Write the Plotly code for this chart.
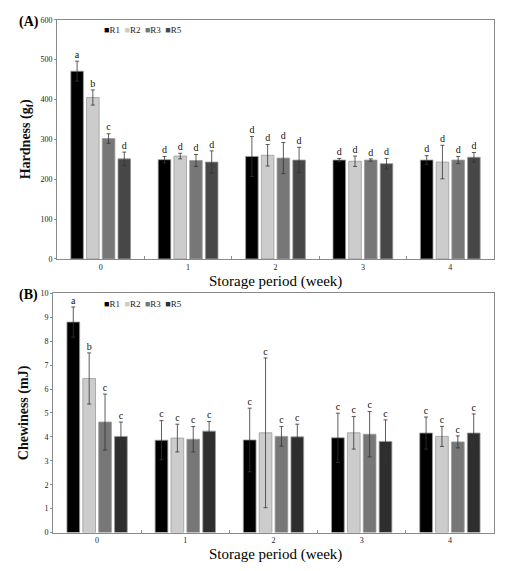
import plotly.graph_objects as go

weeks = [0, 1, 2, 3, 4]
week_labels = ["0", "1", "2", "3", "4"]
series = ["R1", "R2", "R3", "R5"]
colors_a = ["#000000", "#cccccc", "#777777", "#474747"]
colors_b = ["#000000", "#cccccc", "#777777", "#2e2e2e"]

# Hardness (gf)
hard_R1 = [471, 249, 257, 248, 248]
hard_R2 = [405, 258, 260, 245, 243]
hard_R3 = [302, 247, 253, 248, 248]
hard_R5 = [251, 243, 248, 239, 255]
hard_R1_err = [25, 8, 50, 4, 11]
hard_R2_err = [19, 7, 27, 13, 42]
hard_R3_err = [12, 15, 39, 3, 9]
hard_R5_err = [17, 28, 32, 13, 12]
hard_R1_lab = ["a", "d", "d", "d", "d"]
hard_R2_lab = ["b", "d", "d", "d", "d"]
hard_R3_lab = ["c", "d", "d", "d", "d"]
hard_R5_lab = ["d", "d", "d", "d", "d"]

# Chewiness (mJ)
chew_R1 = [8.80, 3.86, 3.87, 3.96, 4.16]
chew_R2 = [6.44, 3.95, 4.17, 4.17, 4.02]
chew_R3 = [4.62, 3.90, 4.02, 4.11, 3.79]
chew_R5 = [4.02, 4.24, 4.00, 3.81, 4.16]
chew_R1_err = [0.63, 0.82, 1.33, 1.03, 0.67]
chew_R2_err = [1.07, 0.58, 3.13, 0.68, 0.42]
chew_R3_err = [1.17, 0.53, 0.41, 0.95, 0.25]
chew_R5_err = [0.60, 0.40, 0.53, 0.90, 0.80]
chew_R1_lab = ["a", "c", "c", "c", "c"]
chew_R2_lab = ["b", "c", "c", "c", "c"]
chew_R3_lab = ["c", "c", "c", "c", "c"]
chew_R5_lab = ["c", "c", "c", "c", "c"]

BARGAP = 0.28
BARGROUPGAP = 0.2
SERIF = "Liberation Serif, Times New Roman, serif"

fig = go.Figure()

panels = [
    dict(vals=[hard_R1, hard_R2, hard_R3, hard_R5],
         errs=[hard_R1_err, hard_R2_err, hard_R3_err, hard_R5_err],
         labs=[hard_R1_lab, hard_R2_lab, hard_R3_lab, hard_R5_lab],
         colors=colors_a, xa="x", ya="y", pad=2),
    dict(vals=[chew_R1, chew_R2, chew_R3, chew_R5],
         errs=[chew_R1_err, chew_R2_err, chew_R3_err, chew_R5_err],
         labs=[chew_R1_lab, chew_R2_lab, chew_R3_lab, chew_R5_lab],
         colors=colors_b, xa="x2", ya="y2", pad=0.03),
]

n = len(series)
slot = (1 - BARGAP) / n
for p in panels:
    for i, name in enumerate(series):
        fig.add_trace(go.Bar(
            x=weeks, y=p["vals"][i], name=name, xaxis=p["xa"], yaxis=p["ya"],
            marker=dict(color=p["colors"][i], line=dict(color="#9a9a9a", width=0.8)),
            error_y=dict(type="data", array=p["errs"][i], color="#333333",
                         thickness=0.8, width=2),
            showlegend=False,
        ))
    for i, name in enumerate(series):
        off = (i - (n - 1) / 2) * slot
        fig.add_trace(go.Scatter(
            x=[w + off for w in weeks],
            y=[v + e + p["pad"] for v, e in zip(p["vals"][i], p["errs"][i])],
            text=p["labs"][i], mode="text", textposition="top center",
            textfont=dict(family=SERIF, size=10, color="#111111"),
            xaxis=p["xa"], yaxis=p["ya"], showlegend=False, hoverinfo="skip",
        ))

axis_common = dict(
    showline=True, mirror=True, linecolor="#8a8a8a", linewidth=1,
    showgrid=False, zeroline=False,
    tickfont=dict(family=SERIF, size=8, color="#222222"),
)
xaxis_common = dict(
    axis_common, range=[-0.5, 4.5], tickvals=weeks, ticktext=week_labels,
    ticks="", fixedrange=True,
    minor=dict(tickvals=[0.5, 1.5, 2.5, 3.5], ticks="inside", ticklen=3,
               tickcolor="#8a8a8a"),
)

legend_text = "  ".join(
    f"<span style='color:{c}'>■</span>{s}" for s, c in zip(series, colors_a))
legend_text_b = "  ".join(
    f"<span style='color:{c}'>■</span>{s}" for s, c in zip(series, colors_b))

fig.update_layout(
    width=507, height=571,
    margin=dict(l=0, r=0, t=0, b=0),
    paper_bgcolor="white", plot_bgcolor="white",
    hovermode=False,
    barmode="group", bargap=BARGAP, bargroupgap=BARGROUPGAP,
    font=dict(family=SERIF, color="#111111"),
    xaxis=dict(xaxis_common, domain=[57 / 507, 494 / 507], anchor="y"),
    yaxis=dict(axis_common, domain=[1 - 259 / 571, 1 - 16 / 571], anchor="x",
               range=[0, 600], dtick=100, ticks="outside", ticklen=2,
               tickcolor="#8a8a8a", fixedrange=True,
               title=dict(text="<b>Hardness (g<sub>f</sub>)</b>",
                          font=dict(family=SERIF, size=14), standoff=6)),
    xaxis2=dict(xaxis_common, domain=[53 / 507, 494 / 507], anchor="y2"),
    yaxis2=dict(axis_common, domain=[1 - 537 / 571, 1 - 294 / 571], anchor="x2",
                range=[0, 10], dtick=1, ticks="outside", ticklen=2,
                tickcolor="#8a8a8a", fixedrange=True,
                title=dict(text="<b>Chewiness (mJ)</b>",
                           font=dict(family=SERIF, size=14), standoff=8)),
    annotations=[
        dict(text="<b>(A)</b>", x=17 / 507, y=1 - 18 / 571, xref="paper", yref="paper",
             xanchor="left", yanchor="middle", showarrow=False,
             font=dict(family=SERIF, size=14, color="#000000")),
        dict(text="<b>(B)</b>", x=17 / 507, y=1 - 296 / 571, xref="paper", yref="paper",
             xanchor="left", yanchor="middle", showarrow=False,
             font=dict(family=SERIF, size=14, color="#000000")),
        dict(text="Storage period (week)", x=275 / 507, y=1 - 282 / 571,
             xref="paper", yref="paper", xanchor="center", yanchor="middle",
             showarrow=False, font=dict(family=SERIF, size=15, color="#000000")),
        dict(text="Storage period (week)", x=275 / 507, y=1 - 559 / 571,
             xref="paper", yref="paper", xanchor="center", yanchor="middle",
             showarrow=False, font=dict(family=SERIF, size=15, color="#000000")),
        dict(text=legend_text, x=102 / 507, y=1 - 26 / 571, xref="paper", yref="paper",
             xanchor="left", yanchor="middle", showarrow=False,
             font=dict(family=SERIF, size=9, color="#222222")),
        dict(text=legend_text_b, x=102 / 507, y=1 - 305 / 571, xref="paper", yref="paper",
             xanchor="left", yanchor="middle", showarrow=False,
             font=dict(family=SERIF, size=9, color="#222222")),
    ],
)

fig.write_html(
    "out.html",
    config={"displayModeBar": False, "staticPlot": True},
    post_script="document.body.style.margin='0';document.body.style.padding='0';",
)
